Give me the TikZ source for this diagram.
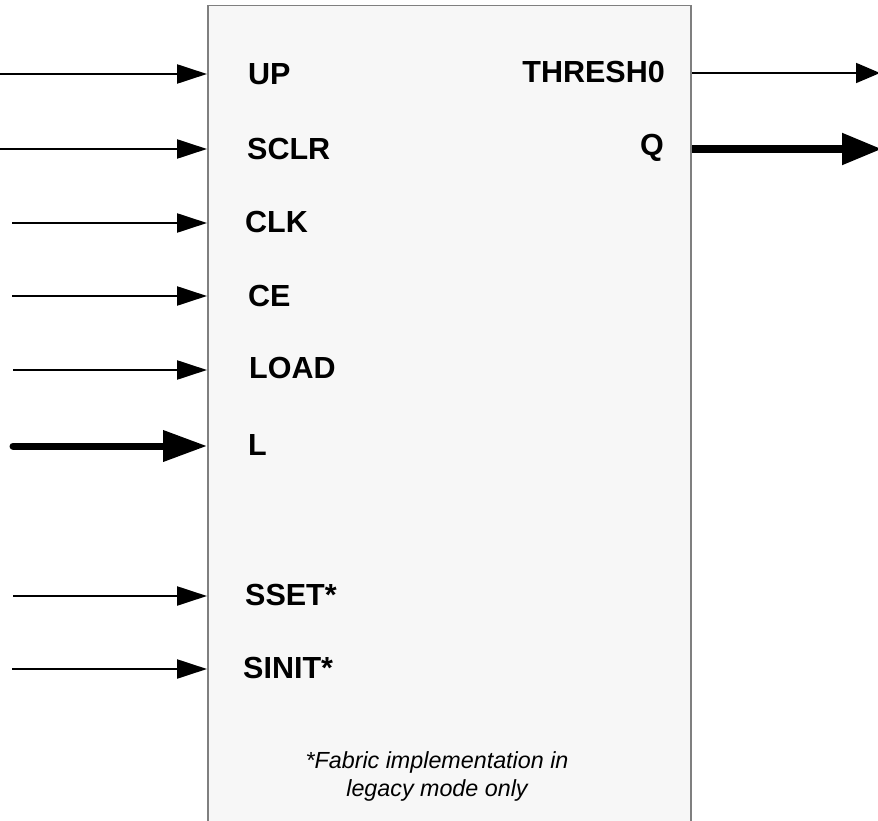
\documentclass[tikz,border=0pt]{standalone}
\usepackage{fontspec}
\setmainfont{Liberation Sans}
\usetikzlibrary{arrows.meta}
\definecolor{boxfill}{HTML}{F7F7F7}
\definecolor{boxline}{HTML}{7F7F7F}
\tikzset{
  sig/.style={font=\fontsize{30.5}{36}\selectfont\bfseries, inner sep=0pt},
  thin arrow/.style={line width=2.3pt, -{Triangle[length=30pt,width=19pt]}},
  thick arrow/.style={line width=7pt, line cap=round, -{Triangle[length=44pt,width=30pt]}},
  out thin/.style={line width=1.8pt, -{Triangle[length=24pt,width=20pt]}},
  out thick/.style={line width=8pt, -{Triangle[length=40pt,width=30pt]}},
  note/.style={font=\fontsize{23.3}{28}\selectfont\itshape, align=center, inner sep=0pt},
}
\begin{document}
\begin{tikzpicture}[x=1pt,y=-1pt]
\useasboundingbox (0,0) rectangle (878,821);
\clip (0,0) rectangle (878,821);
% block
\node[draw=boxline, fill=boxfill, line width=1.5pt, minimum width=483pt, minimum height=840pt, anchor=north west, inner sep=0pt] (blk) at (207,5) {};
% labels
\node[sig, anchor=west] (up)   at (248,74)  {UP};
\node[sig, anchor=west] (sclr) at (247,149) {SCLR};
\node[sig, anchor=west] (clk)  at (245,222) {CLK};
\node[sig, anchor=west] (ce)   at (248,296) {CE};
\node[sig, anchor=west] (load) at (249,368) {LOAD};
\node[sig, anchor=west] (l)    at (248,445) {L};
\node[sig, anchor=west] (sset) at (245,595) {SSET*};
\node[sig, anchor=west] (sinit) at (243,668) {SINIT*};
\node[sig, anchor=east] (thr)  at (665,72)  {THRESH0};
\node[sig, anchor=east] (q)    at (664,148) {Q};
\node[note] (fn) at (437,776) {*Fabric implementation in\\legacy mode only};
% connector end points
\coordinate (upS) at (0,74);     \coordinate (upE) at (207,74);
\coordinate (sclrS) at (0,149);  \coordinate (sclrE) at (207,149);
\coordinate (clkS) at (12,223);  \coordinate (clkE) at (207,223);
\coordinate (ceS) at (12,296);   \coordinate (ceE) at (207,296);
\coordinate (loadS) at (13,370); \coordinate (loadE) at (207,370);
\coordinate (lS) at (13,446);    \coordinate (lE) at (207,446);
\coordinate (ssetS) at (13,596); \coordinate (ssetE) at (207,596);
\coordinate (sinitS) at (12,669);\coordinate (sinitE) at (207,669);
\coordinate (thrS) at (692,73);  \coordinate (thrE) at (880,73);
\coordinate (qS) at (692,149);   \coordinate (qE) at (882,149);
% connectors
\draw[thin arrow] (upS) -- (upE);
\draw[thin arrow] (sclrS) -- (sclrE);
\draw[thin arrow] (clkS) -- (clkE);
\draw[thin arrow] (ceS) -- (ceE);
\draw[thin arrow] (loadS) -- (loadE);
\draw[thick arrow] (lS) -- (lE);
\draw[thin arrow] (ssetS) -- (ssetE);
\draw[thin arrow] (sinitS) -- (sinitE);
\draw[out thin] (thrS) -- (thrE);
\draw[out thick] (qS) -- (qE);
\end{tikzpicture}
\end{document}
